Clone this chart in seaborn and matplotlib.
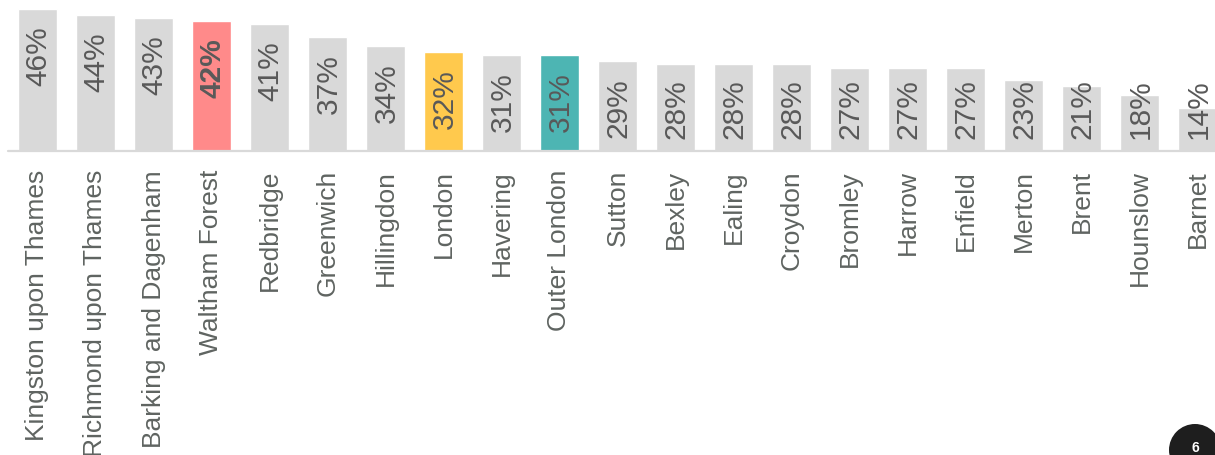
import matplotlib
matplotlib.use("Agg")
import matplotlib.pyplot as plt
from matplotlib.patches import Ellipse
import seaborn as sns
import pandas as pd

boroughs = [
    "Kingston upon Thames", "Richmond upon Thames", "Barking and Dagenham",
    "Waltham Forest", "Redbridge", "Greenwich", "Hillingdon", "London",
    "Havering", "Outer London", "Sutton", "Bexley", "Ealing", "Croydon",
    "Bromley", "Harrow", "Enfield", "Merton", "Brent", "Hounslow", "Barnet",
]
shares = [46, 44, 43, 42, 41, 37, 34, 32, 31, 31, 29, 28, 28, 28, 27, 27, 27, 23, 21, 18, 14]
highlight = {
    "Waltham Forest": "#ff8a8a",
    "London": "#ffc94d",
    "Outer London": "#4db5b3",
}
base_colour = "#d9d9d9"

df = pd.DataFrame({"borough": boroughs, "share": shares})
palette = {b: highlight.get(b, base_colour) for b in boroughs}

sns.set_theme(style="white")
plt.rcParams["font.family"] = ["Liberation Sans", "DejaVu Sans"]

W, H = 1215, 456
fig = plt.figure(figsize=(W / 100, H / 100), dpi=100)
baseline_px = 152
ax = fig.add_axes([0, (H - baseline_px) / H, 1, baseline_px / H])

sns.barplot(data=df, x="borough", y="share", hue="borough", palette=palette,
            width=0.67, saturation=1, legend=False, ax=ax)

px_per_unit = 3.09
ax.set_ylim(0, baseline_px / px_per_unit)
ax.set_xlim(-37.5 / 58, (W - 37.5) / 58)

# value labels, written vertically near the top of each bar
for i, (b, v) in enumerate(zip(boroughs, shares)):
    y_top = max(v - 5.2, 23.5)
    ax.text(i + 0.02, y_top, f"{v}%", rotation=90, ha="center", va="top",
            fontsize=21.5, color="#595959",
            fontweight="bold" if b == "Waltham Forest" else "normal")

for s in ax.spines.values():
    s.set_visible(False)
ax.axhline(0, xmin=8 / W, xmax=1, color="#d9d9d9", lw=1.6, clip_on=False, zorder=5)

ax.set_yticks([])
ax.set_xlabel("")
ax.set_ylabel("")
ax.tick_params(axis="x", length=0, pad=13)
ax.set_xticks(range(len(boroughs)))
ax.set_xticklabels(boroughs, rotation=90, fontsize=19, color="#5f6461", va="top")

# page number badge
fig.patches.append(Ellipse((1195 / W, (H - 451) / H), 52 / W, 52 / H,
                           transform=fig.transFigure, facecolor="#1e1e1e",
                           edgecolor="none", zorder=10))
fig.text(1195 / W, (H - 455) / H, "6", ha="center", va="bottom", fontsize=10,
         fontweight="bold", color="white", zorder=11)

fig.savefig("out.png", dpi=100, facecolor="white")
